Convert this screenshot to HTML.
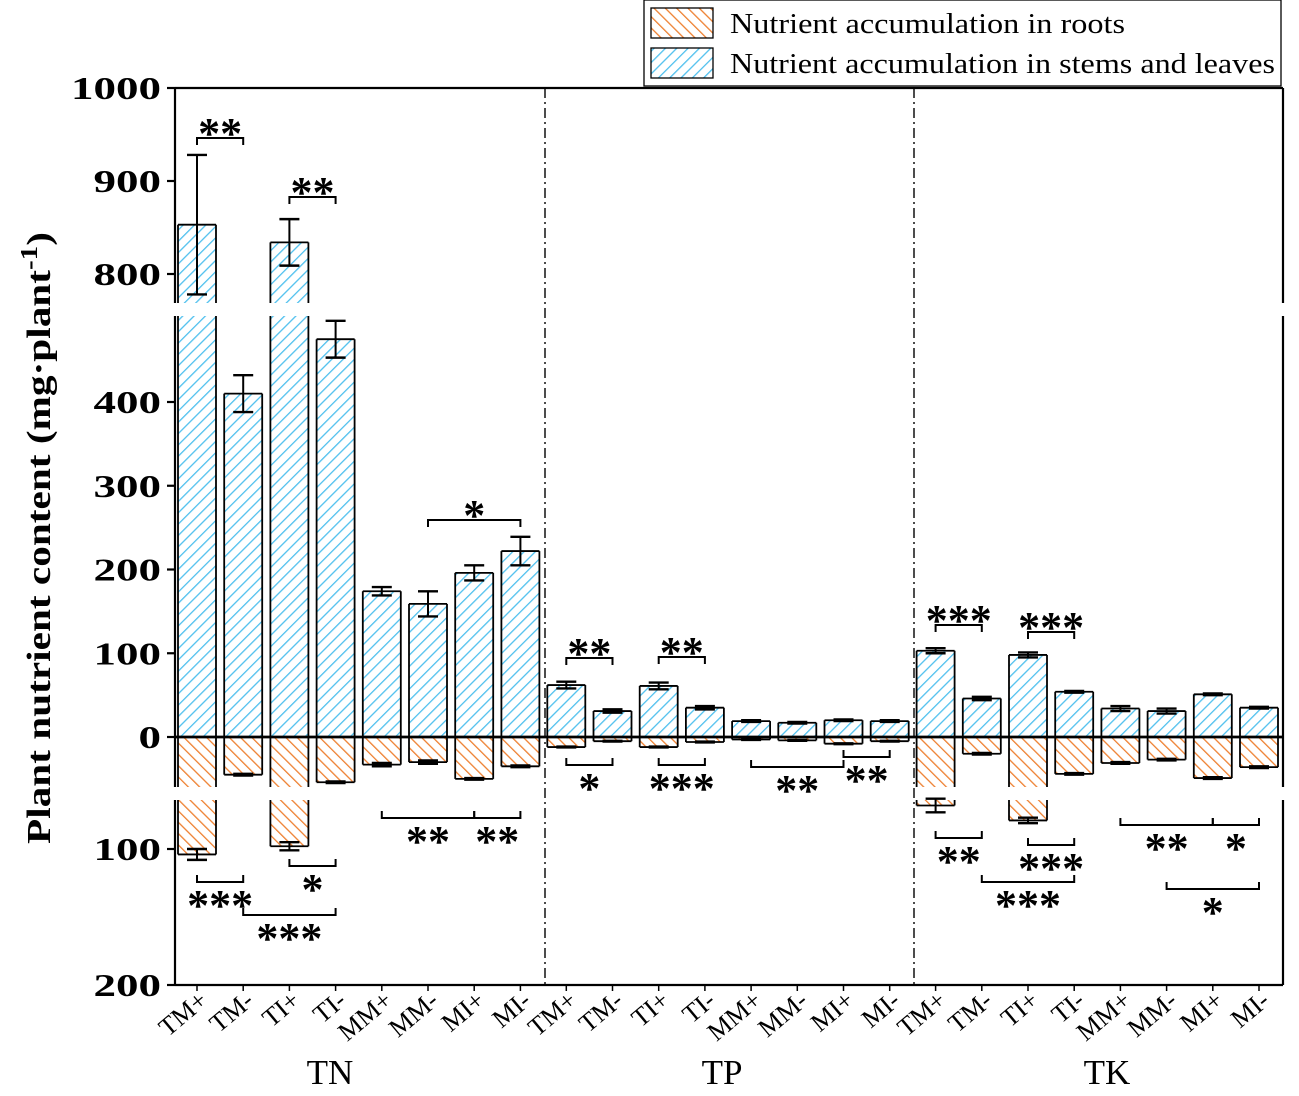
<!DOCTYPE html>
<html><head><meta charset="utf-8"><style>
body{margin:0;background:#fff}
svg text{font-family:"Liberation Serif",serif}
</style></head><body>
<svg id="c" width="1299" height="1091" xmlns="http://www.w3.org/2000/svg">
<defs>
<pattern id="hb" patternUnits="userSpaceOnUse" width="8" height="8" patternTransform="rotate(45)"><rect width="8" height="8" fill="#fff"/><line x1="0" y1="0" x2="0" y2="8" stroke="#4fc0ee" stroke-width="2.6"/></pattern>
<pattern id="ho" patternUnits="userSpaceOnUse" width="8" height="8" patternTransform="rotate(-45)"><rect width="8" height="8" fill="#fff"/><line x1="0" y1="0" x2="0" y2="8" stroke="#ee8030" stroke-width="2.6"/></pattern>
</defs>
<g id="g"></g>
</svg>
<script>
const groups=["TN","TP","TK"];
const treatments=["TM+","TM-","TI+","TI-","MM+","MM-","MI+","MI-"];
const stems=[853,410,834,475,174,159,196,222, 62,31,61,35,19,17,20,19, 103,46,98,54,34,31,51,35];
const stemErr=[75,22,25,22,5,15,9,17, 4,2,4,2,1,1,1,1, 3,2,3,1,3,3,1,1];
const roots=[104,45,98,54,33,30,50,35, 12,5,12,6,3,4,8,5, 68,20,79,44,31,27,49,36];
const rootErr=[4,1,3,1,2,2,1,1, 0.5,0.5,0.5,0.5,0.5,0.5,0.5,0.5, 5,1,2,1,1,1,1,1];
const yTicks=[1000,900,800,400,300,200,100,0,-100,-200];
// brackets: [barA, barB, yPixelLevel, label, side(1 top,-1 bottom)]
const brackets=[[0,1,138,"**",1],[2,3,197,"**",1],[5,7,520,"*",1],[8,9,658,"**",1],[10,11,657,"**",1],[16,17,625,"***",1],[18,19,632,"***",1],
[0,1,882,"***",-1],[2,3,866,"*",-1],[1,3,915,"***",-1],[4,6,818,"**",-1],[6,7,818,"**",-1],
[8,9,765,"*",-1],[10,11,765,"***",-1],[12,14,767,"**",-1],[14,15,757,"**",-1],
[16,17,838,"**",-1],[18,19,845,"***",-1],[17,19,882,"***",-1],[20,22,825,"**",-1],[22,23,825,"*",-1],[21,23,889,"*",-1]];

const L=175,R=1283,T=88,B=985,Z=737;
const gapT=[303,316],gapB=[787,800];
function y(v){
  if(v>=772) return 88+(1000-v)*0.93;
  if(v>=0) return Z-v*0.8375;
  const r=-v;
  if(r<=59) return Z+r*0.8375;
  return 849+(r-100)*1.36;
}
function xc(i){return L+22+Math.floor(i/8)*369.3+(i%8)*46.2;}
const g=document.getElementById('g');
function el(t,a,p){const e=document.createElementNS("http://www.w3.org/2000/svg",t);for(const k in a)e.setAttribute(k,a[k]);(p||g).appendChild(e);return e;}
const BW=38;
function bar(i,v,fill,name){
  const x=xc(i)-BW/2, yv=y(v);
  let segs;
  if(v>0){segs = yv<gapT[0]?[[yv,gapT[0],true,false],[gapT[1],Z,false,false]]:[[yv,Z,true,false]];}
  else{segs = yv>gapB[1]?[[Z,gapB[0],false,false],[gapB[1],yv,false,true]]:[[Z,yv,false,true]];}
  segs.forEach(s=>{
    const r=el('rect',{x:x,y:s[0],width:BW,height:s[1]-s[0],fill:fill});
    
    
    el('line',{x1:x,y1:s[0],x2:x,y2:s[1],stroke:'#000','stroke-width':1.8});
    el('line',{x1:x+BW,y1:s[0],x2:x+BW,y2:s[1],stroke:'#000','stroke-width':1.8});
    if(s[2])el('line',{x1:x,y1:s[0],x2:x+BW,y2:s[0],stroke:'#000','stroke-width':1.8});
    if(s[3])el('line',{x1:x,y1:s[1],x2:x+BW,y2:s[1],stroke:'#000','stroke-width':1.8});
  });
}
function err(i,v,e){
  const c=xc(i),a=y(v+e),b=y(v-e);
  el('line',{x1:c,y1:a,x2:c,y2:b,stroke:'#000','stroke-width':2});
  el('line',{x1:c-10,y1:a,x2:c+10,y2:a,stroke:'#000','stroke-width':2.4});
  el('line',{x1:c-10,y1:b,x2:c+10,y2:b,stroke:'#000','stroke-width':2.4});
}
for(let i=0;i<24;i++){
  bar(i,stems[i],'url(#hb)','stem-bar-'+groups[Math.floor(i/8)]+'-'+treatments[i%8]);
  bar(i,-roots[i],'url(#ho)','root-bar-'+groups[Math.floor(i/8)]+'-'+treatments[i%8]);
}
for(let i=0;i<24;i++){err(i,stems[i],stemErr[i]);err(i,-roots[i],rootErr[i]);}
el('line',{x1:L,y1:Z,x2:R,y2:Z,stroke:'#000','stroke-width':2.8});
el('line',{x1:L,y1:T,x2:R,y2:T,stroke:'#000','stroke-width':2.2});
el('line',{x1:L,y1:B,x2:R,y2:B,stroke:'#000','stroke-width':2.2});
[L,R].forEach(x=>{
  el('line',{x1:x,y1:T,x2:x,y2:gapT[0],stroke:'#000','stroke-width':2.2});
  el('line',{x1:x,y1:gapT[1],x2:x,y2:gapB[0],stroke:'#000','stroke-width':2.2});
  el('line',{x1:x,y1:gapB[1],x2:x,y2:B,stroke:'#000','stroke-width':2.2});
});
[545,914].forEach((x,k)=>{const d=el('line',{x1:x,y1:T,x2:x,y2:B,stroke:'#000','stroke-width':1.4,'stroke-dasharray':'10,4,2,4'});

});
yTicks.forEach(v=>{
  const yy=y(v);
  el('line',{x1:L-8,y1:yy,x2:L,y2:yy,stroke:'#000','stroke-width':2.2});
  const s=String(Math.abs(v));
  const t=el('text',{x:L-14,y:yy+11,'text-anchor':'end','font-size':32,'font-weight':'bold',textLength:s.length*22.5,lengthAdjust:'spacingAndGlyphs'});
  t.textContent=s;
  
  
});
for(let i=0;i<24;i++){
  const c=xc(i);
  el('line',{x1:c,y1:B,x2:c,y2:B+6,stroke:'#000','stroke-width':1.5});
  const s=treatments[i%8];
  const t=el('text',{x:c+12,y:B+18,'text-anchor':'end','font-size':26,transform:`rotate(-40 ${c+12} ${B+18})`});
  t.textContent=s;
  
  
}
groups.forEach((gn,k)=>{
  const t=el('text',{x:[330,722,1107][k],y:1084,'text-anchor':'middle','font-size':35});
  t.textContent=gn;
  
  
});
const yt=el('text',{x:0,y:0,'text-anchor':'middle','font-size':34,'font-weight':'bold',transform:'translate(50,538) rotate(-90)',textLength:612,lengthAdjust:'spacingAndGlyphs'});
yt.innerHTML='Plant nutrient content (mg·plant<tspan dy="-13" font-size="24">-1</tspan><tspan dy="13">)</tspan>';


brackets.forEach(b=>{
  const a=xc(b[0]),c=xc(b[1]),yy=b[2],s=b[4];
  el('path',{d:`M${a},${yy+7*s} V${yy} H${c} V${yy+7*s}`,fill:'none',stroke:'#000','stroke-width':2});
  const t=el('text',{x:(a+c)/2,y:s>0?yy+10:yy+38,'text-anchor':'middle','font-size':44,'font-weight':'bold'});
  t.textContent=b[3];
  
  
});
const lg=el('g',{});


el('rect',{x:644,y:0,width:637,height:86,fill:'#fff',stroke:'#000','stroke-width':1.3},lg);
[['url(#ho)','Nutrient accumulation in roots',8,395],['url(#hb)','Nutrient accumulation in stems and leaves',48,545]].forEach((e,k)=>{
  el('rect',{x:651,y:e[2],width:62,height:30,fill:e[0],stroke:'#000','stroke-width':1.3},lg);
  const t=el('text',{x:730,y:e[2]+25,'font-size':29,textLength:e[3],lengthAdjust:'spacingAndGlyphs'},lg);
  t.textContent=e[1];
  
  
});
</script>
</body></html>
